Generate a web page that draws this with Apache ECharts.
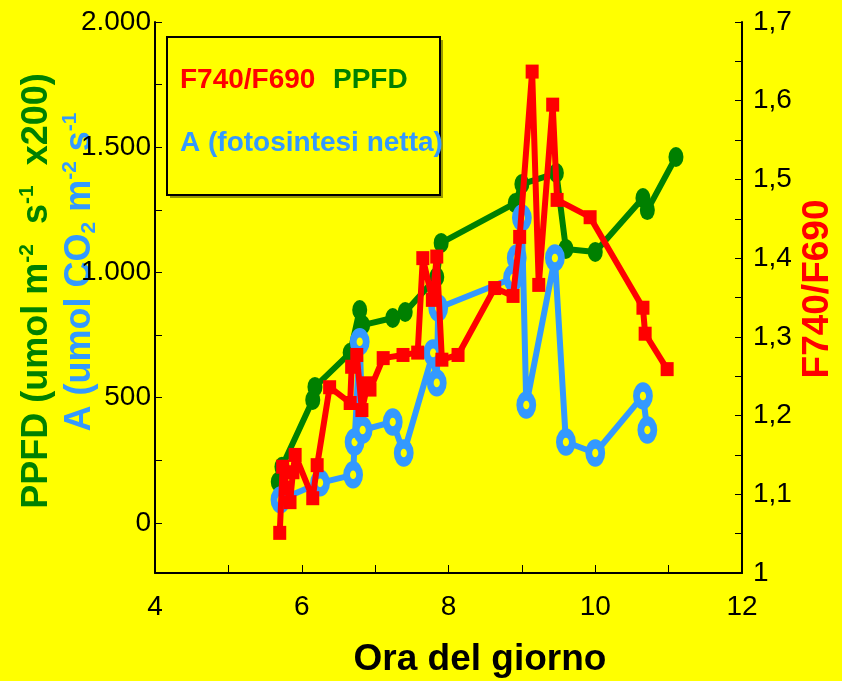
<!DOCTYPE html>
<html>
<head>
<meta charset="utf-8">
<script src="https://cdn.jsdelivr.net/npm/echarts@6/dist/echarts.min.js"></script>
<style>
html,body{margin:0;padding:0;background:#FFFF00;}
#chart{width:842px;height:681px;}
</style>
</head>
<body>
<div id="chart"></div>
<script>
// PPFD (left axis)
const ppfdHours  = [5.68, 5.73, 6.15, 6.18, 6.66, 6.79, 6.83, 7.24, 7.41, 7.84, 7.90, 8.91, 9.00, 9.47, 9.60, 10.00, 10.65, 10.71, 11.10];
const ppfdValues = [164, 224, 491, 543, 679, 850, 790, 818, 842, 982, 1118, 1277, 1353, 1397, 1094, 1082, 1297, 1249, 1461];
// A (left axis)
const aHours  = [5.71, 6.25, 6.70, 6.72, 6.79, 6.83, 7.24, 7.39, 7.79, 7.84, 7.86, 8.88, 8.93, 9.00, 9.06, 9.45, 9.60, 10.00, 10.65, 10.71];
const aValues = [92, 160, 192, 323, 723, 371, 403, 279, 679, 559, 858, 978, 1058, 1218, 471, 1058, 323, 279, 507, 371];
// F740/F690 (right axis)
const ratioHours  = [5.70, 5.74, 5.80, 5.84, 5.88, 5.91, 6.15, 6.21, 6.38, 6.66, 6.68, 6.75, 6.82, 6.90, 6.93, 7.11, 7.38, 7.58, 7.65, 7.78, 7.84, 7.91, 8.13, 8.63, 8.88, 8.97, 9.14, 9.23, 9.42, 9.48, 9.93, 10.65, 10.68, 10.98];
const ratioValues = [1.051, 1.135, 1.108, 1.090, 1.128, 1.150, 1.095, 1.137, 1.236, 1.216, 1.262, 1.277, 1.207, 1.241, 1.233, 1.273, 1.277, 1.280, 1.400, 1.347, 1.402, 1.271, 1.277, 1.362, 1.352, 1.427, 1.637, 1.366, 1.595, 1.474, 1.452, 1.337, 1.304, 1.259];

const xTickLabels = [4, 6, 8, 10, 12];
const leftTickLabels = [0, 500, 1000, 1500, 2000];
const leftTicks = [0, 250, 500, 750, 1000, 1250, 1500, 1750, 2000];
const rightTickLabels = [1, 1.1, 1.2, 1.3, 1.4, 1.5, 1.6, 1.7];

const GREEN = '#008000', BLUE = '#3399FF', RED = '#FF0000';
const FONT = 'Liberation Sans, Arial, sans-serif';

function pairs(xs, ys){ return xs.map((x,i)=>[x, ys[i]]); }
function fmtThousands(v){ return String(v).replace(/\B(?=(\d{3})+(?!\d))/g, '.'); }

const chart = echarts.init(document.getElementById('chart'));
chart.setOption({
  backgroundColor: '#FFFF00',
  animation: false,
  grid: { left: 155, right: 100, top: 22, bottom: 108 },
  xAxis: {
    type: 'value', min: 4, max: 12, interval: 1,
    axisLine: { show: true, onZero: false, lineStyle: { color: '#000', width: 2 } },
    axisTick: { show: true, inside: true, length: 8, lineStyle: { color: '#000', width: 1 } },
    axisLabel: { customValues: xTickLabels, color: '#000', fontSize: 28, fontFamily: FONT, margin: 20 },
    splitLine: { show: false }
  },
  yAxis: [
    {
      type: 'value', min: -200, max: 2000, position: 'left',
      axisLine: { show: true, onZero: false, lineStyle: { color: '#000', width: 2 } },
      axisTick: { show: true, inside: true, length: 7, customValues: leftTicks, lineStyle: { color: '#000', width: 1 } },
      axisLabel: { customValues: leftTickLabels, formatter: v => fmtThousands(v), color: '#000', fontSize: 28, fontFamily: FONT, margin: 4 },
      splitLine: { show: false }
    },
    {
      type: 'value', min: 1, max: 1.7, interval: 0.05, position: 'right',
      axisLine: { show: true, onZero: false, lineStyle: { color: '#000', width: 2 } },
      axisTick: { show: true, inside: true, length: 7, lineStyle: { color: '#000', width: 1 } },
      axisLabel: { customValues: rightTickLabels, formatter: v => (Math.abs(v-1)<1e-9 ? '1' : v.toFixed(1).replace('.', ',')), color: '#000', fontSize: 28, fontFamily: FONT, margin: 11 },
      splitLine: { show: false }
    }
  ],
  series: [
    {
      name: 'PPFD', type: 'line', yAxisIndex: 0, data: pairs(ppfdHours, ppfdValues),
      symbol: 'circle', symbolSize: [15, 20],
      itemStyle: { color: GREEN },
      lineStyle: { color: GREEN, width: 6 }, z: 2
    },
    {
      name: 'A', type: 'line', yAxisIndex: 0, data: pairs(aHours, aValues),
      symbol: 'circle', symbolSize: [13, 18],
      itemStyle: { color: '#FFFF00', borderColor: BLUE, borderWidth: 8 },
      lineStyle: { color: BLUE, width: 6 }, z: 3
    },
    {
      name: 'F740/F690', type: 'line', yAxisIndex: 1, data: pairs(ratioHours, ratioValues),
      symbol: 'rect', symbolSize: [13, 14],
      itemStyle: { color: RED },
      lineStyle: { color: RED, width: 6 }, z: 4
    }
  ],
  graphic: [
    { type: 'rect', shape: { x: 170, y: 40, width: 273, height: 158 }, style: { fill: '#999900', stroke: null }, z: 1 },
    { type: 'rect', shape: { x: 167, y: 37, width: 273, height: 158 }, style: { fill: '#FFFF00', stroke: '#000', lineWidth: 2 }, z: 2 },
    { type: 'text', x: 180, y: 80, style: { text: 'F740/F690', fill: RED, font: 'bold 28px ' + FONT, verticalAlign: 'middle' }, z: 3 },
    { type: 'text', x: 333, y: 80, style: { text: 'PPFD', fill: GREEN, font: 'bold 28px ' + FONT, verticalAlign: 'middle' }, z: 3 },
    { type: 'text', x: 180, y: 143, style: { text: 'A (fotosintesi netta)', fill: BLUE, font: 'bold 28px ' + FONT, verticalAlign: 'middle' }, z: 3 },
    {
      type: 'text', x: 37, y: 291, rotation: Math.PI/2,
      style: {
        text: '{a|PPFD (umol m}{s|-2}{a|  s}{s|-1}{a|  x200)}',
        align: 'center', verticalAlign: 'middle',
        rich: {
          a: { fill: GREEN, font: 'bold 36px ' + FONT, lineHeight: 40 },
          s: { fill: GREEN, font: 'bold 21px ' + FONT, verticalAlign: 'top', lineHeight: 40 }
        }
      }
    },
    {
      type: 'text', x: 80, y: 272, rotation: Math.PI/2,
      style: {
        text: '{a|A (umol CO}{b|2}{a| m}{s|-2}{a| s}{s|-1}',
        align: 'center', verticalAlign: 'middle',
        rich: {
          a: { fill: BLUE, font: 'bold 36px ' + FONT, lineHeight: 40 },
          s: { fill: BLUE, font: 'bold 21px ' + FONT, verticalAlign: 'top', lineHeight: 40 },
          b: { fill: BLUE, font: 'bold 21px ' + FONT, verticalAlign: 'bottom', lineHeight: 40 }
        }
      }
    },
    {
      type: 'text', x: 818, y: 289, rotation: Math.PI/2,
      style: { text: 'F740/F690', fill: RED, font: 'bold 37px ' + FONT, align: 'center', verticalAlign: 'middle' }
    },
    {
      type: 'text', x: 480, y: 660,
      style: { text: 'Ora del giorno', fill: '#000', font: 'bold 37px ' + FONT, align: 'center', verticalAlign: 'middle' }
    }
  ]
});
</script>
</body>
</html>
